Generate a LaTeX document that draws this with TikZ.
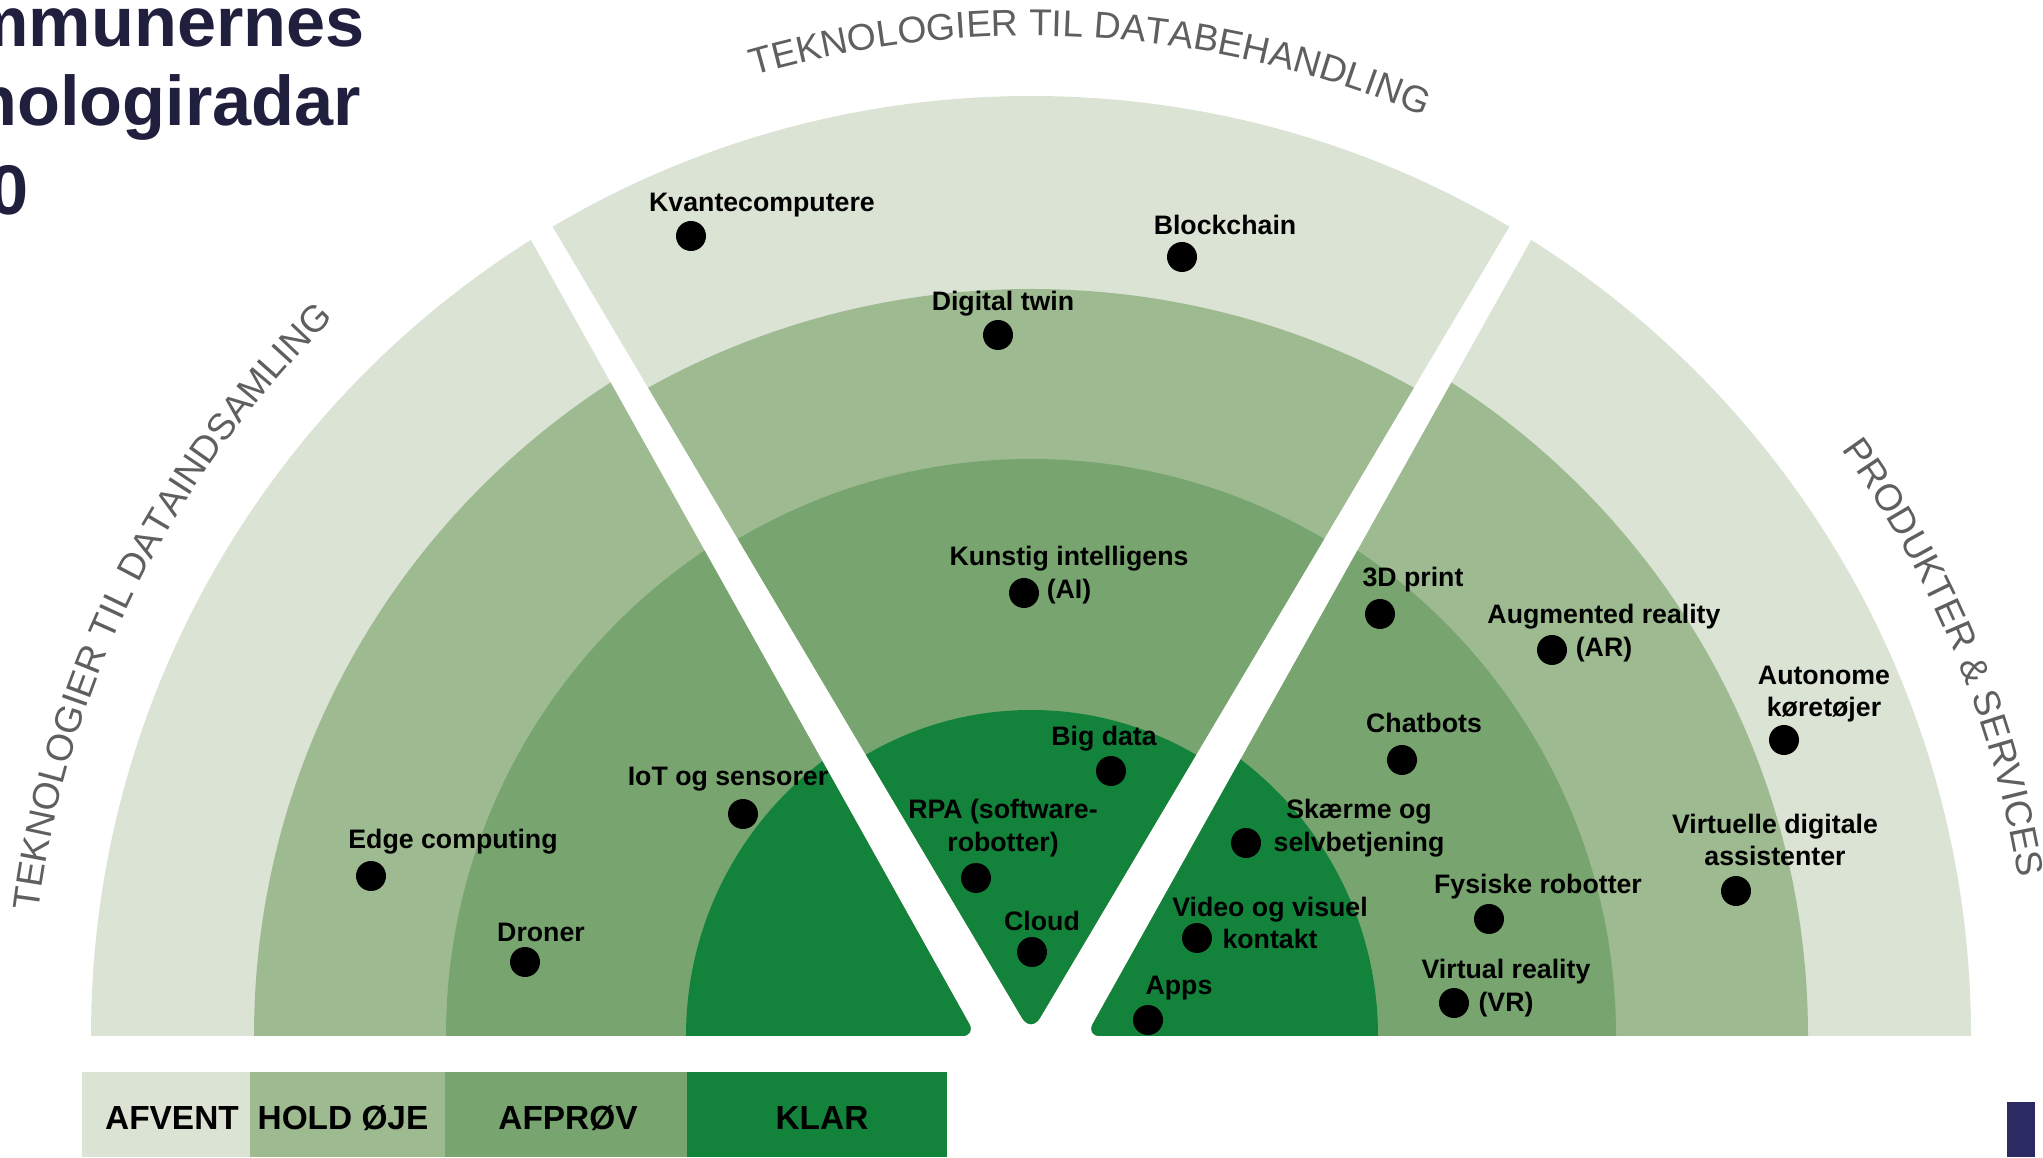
\documentclass[tikz,border=0pt]{standalone}
\usepackage{fontspec}
\setmainfont{Liberation Sans}
\usetikzlibrary{calc,decorations.text}

\definecolor{afvent}{RGB}{218,227,212}
\definecolor{holdoje}{RGB}{157,186,145}
\definecolor{afprov}{RGB}{120,165,111}
\definecolor{klar}{RGB}{19,130,59}
\definecolor{titlenavy}{RGB}{33,31,62}
\definecolor{cornernavy}{RGB}{44,42,98}
\definecolor{arcgray}{RGB}{95,95,95}

\tikzset{
  dot/.style={circle,fill=black,inner sep=0pt,minimum size=3mm},
  lbl/.style={font=\bfseries\fontsize{7.6}{9.3}\selectfont,align=center,inner sep=0pt},
  legendtxt/.style={font=\bfseries\fontsize{9.5}{11}\selectfont,inner sep=0pt},
  titletxt/.style={font=\bfseries\fontsize{20}{24}\selectfont,text=titlenavy,anchor=base west,inner sep=0pt}
}
\def\radartitle(#1:#2)#3{\path[decorate,decoration={text along path,text align=center,text color=arcgray,text={|\fontsize{10.6}{12}\selectfont|#3}}] ($(C)+(#1:10)$) arc[start angle=#1,end angle=#2,radius=10];}

\begin{document}
\begin{tikzpicture}
			%%%%% START %%%%%
			\useasboundingbox (0,0) rectangle (20.43,11.57);
			\coordinate (C) at (10.31,1.21);

			% left sector
			\begin{scope}
				\clip[rounded corners=4pt] (9.76,1.21) -- (3.99,11.53) -- (-1,11.53) -- (-1,1.21) -- cycle;
				\fill[afvent] (C) circle (9.40);
				\fill[holdoje] (C) circle (7.77);
				\fill[afprov] (C) circle (5.85);
				\fill[klar] (C) circle (3.45);
			\end{scope}

			% middle sector
			\begin{scope}
				\clip[rounded corners=5pt] (10.31,1.24) -- (4.08,11.74) -- (16.54,11.74) -- cycle;
				\fill[afvent] (C) circle (9.40);
				\fill[holdoje] (C) ellipse (7.70 and 7.47);
				\fill[afprov] (C) circle (5.77);
				\fill[klar] (C) circle (3.26);
			\end{scope}

			% right sector
			\begin{scope}
				\clip[rounded corners=4pt] (10.86,1.21) -- (16.63,11.53) -- (21.6,11.53) -- (21.6,1.21) -- cycle;
				\fill[afvent] (C) circle (9.40);
				\fill[holdoje] (C) circle (7.77);
				\fill[afprov] (C) circle (5.85);
				\fill[klar] (C) circle (3.47);
			\end{scope}

			% sector titles
			\radartitle(185:122){TEKNOLOGIER TIL DATAINDSAMLING}
			\radartitle(120:53){TEKNOLOGIER TIL DATABEHANDLING}
			\radartitle(55:-10){PRODUKTER {\&} SERVICES}

			% technologies
			\node[dot] (kvante) at (6.91,9.21) {};
			\node[lbl] (kvantelbl) at (7.62,9.52) {Kvantecomputere};
			\node[dot] (block) at (11.82,9.00) {};
			\node[lbl] (blocklbl) at (12.25,9.32) {Blockchain};
			\node[dot] (twin) at (9.98,8.22) {};
			\node[lbl] (twinlbl) at (10.03,8.53) {Digital twin};
			\node[dot] (ai) at (10.24,5.64) {};
			\node[lbl] (ailbl) at (10.69,5.82) {Kunstig intelligens\\(AI)};
			\node[dot] (print) at (13.80,5.43) {};
			\node[lbl] (printlbl) at (14.13,5.77) {3D print};
			\node[dot] (ar) at (15.52,5.07) {};
			\node[lbl] (arlbl) at (16.04,5.24) {Augmented reality\\(AR)};
			\node[dot] (auto) at (17.84,4.17) {};
			\node[lbl] (autolbl) at (18.24,4.63) {Autonome\\køretøjer};
			\node[dot] (chat) at (14.02,3.97) {};
			\node[lbl] (chatlbl) at (14.24,4.34) {Chatbots};
			\node[dot] (big) at (11.11,3.86) {};
			\node[lbl] (biglbl) at (11.04,4.18) {Big data};
			\node[dot] (iot) at (7.43,3.43) {};
			\node[lbl] (iotlbl) at (7.28,3.78) {IoT og sensorer};
			\node[dot] (edge) at (3.71,2.81) {};
			\node[lbl] (edgelbl) at (4.53,3.15) {Edge computing};
			\node[dot] (droner) at (5.25,1.95) {};
			\node[lbl] (dronerlbl) at (5.41,2.25) {Droner};
			\node[dot] (rpa) at (9.76,2.79) {};
			\node[lbl] (rpalbl) at (10.03,3.29) {RPA (software-\\robotter)};
			\node[dot] (cloud) at (10.32,2.05) {};
			\node[lbl] (cloudlbl) at (10.42,2.36) {Cloud};
			\node[dot] (skaerm) at (12.46,3.14) {};
			\node[lbl] (skaermlbl) at (13.59,3.29) {Skærme og\\selvbetjening};
			\node[dot] (video) at (11.97,2.19) {};
			\node[lbl] (videolbl) at (12.70,2.34) {Video og visuel\\kontakt};
			\node[dot] (apps) at (11.48,1.37) {};
			\node[lbl] (appslbl) at (11.79,1.69) {Apps};
			\node[dot] (fysisk) at (14.89,2.38) {};
			\node[lbl] (fysisklbl) at (15.38,2.70) {Fysiske robotter};
			\node[dot] (vr) at (14.54,1.54) {};
			\node[lbl] (vrlbl) at (15.06,1.69) {Virtual reality\\(VR)};
			\node[dot] (assist) at (17.36,2.66) {};
			\node[lbl] (assistlbl) at (17.75,3.17) {Virtuelle digitale\\assistenter};

			% legend
			\fill[afvent] (0.82,0) rectangle (2.50,0.85);
			\fill[holdoje] (2.50,0) rectangle (4.45,0.85);
			\fill[afprov] (4.45,0) rectangle (6.87,0.85);
			\fill[klar] (6.87,0) rectangle (9.47,0.85);
			\node[legendtxt] (lgafvent) at (1.72,0.39) {AFVENT};
			\node[legendtxt] (lgholdoje) at (3.43,0.39) {HOLD ØJE};
			\node[legendtxt] (lgafprov) at (5.68,0.39) {AFPRØV};
			\node[legendtxt] (lgklar) at (8.22,0.39) {KLAR};

			\fill[cornernavy] (20.07,0) rectangle (20.35,0.55);

			% heading, cut at the page edge
			\begin{scope}
				\clip (0,0) rectangle (20.43,11.57);
				\node[titletxt] (title1) at (-1.28,11.10) {Kommunernes};
				\node[titletxt] (title2) at (-1.28,10.31) {teknologiradar};
				\node[titletxt] (title3) at (-1.28,9.42) {2020};
			\end{scope}
			%%%%% END %%%%%
\end{tikzpicture}
\end{document}
